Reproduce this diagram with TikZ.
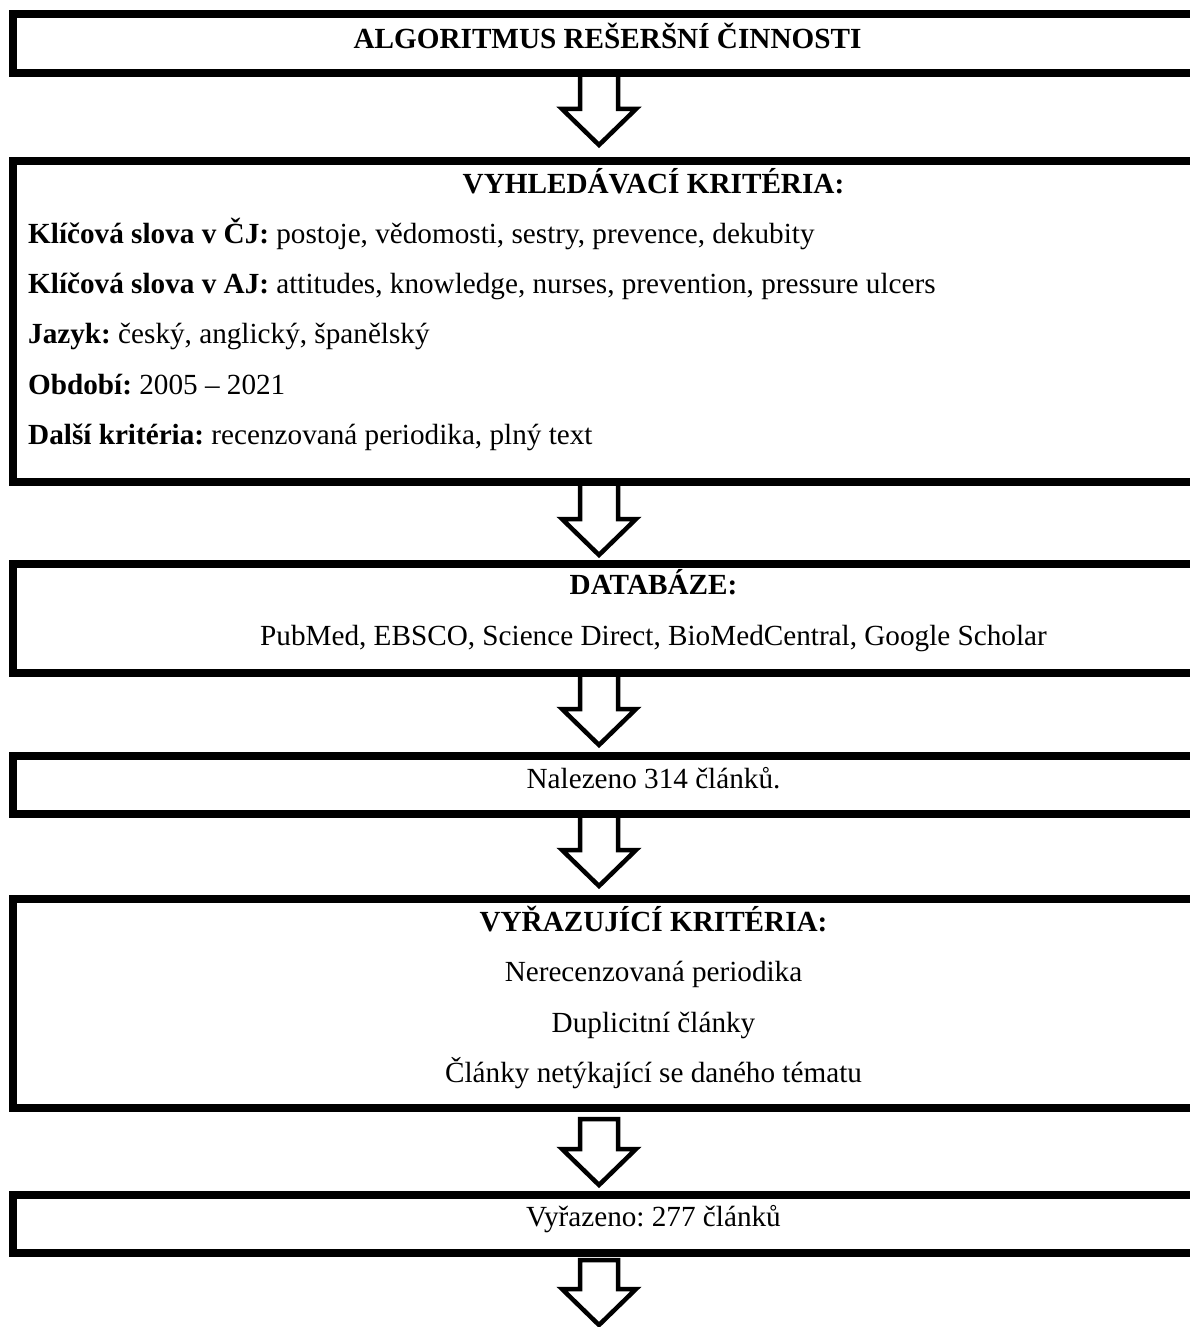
\documentclass[tikz,border=0pt]{standalone}
\usepackage{fontspec}
\setmainfont{Liberation Serif}
\usetikzlibrary{calc}
\frenchspacing

\begin{document}
\begin{tikzpicture}[
      x=1pt, y=-1pt,
      font=\fontsize{29.2}{35}\selectfont,
      box/.style={draw, line width=8pt, inner sep=0pt, minimum width=1281pt},
      txt/.style={inner sep=0pt, anchor=base},
      head/.style={txt, font=\fontsize{29.2}{35}\selectfont\bfseries},
      item/.style={txt, anchor=base west},
      hollow/.style={draw, line width=4.5pt, line join=miter}]
    \useasboundingbox (0,0) rectangle (1190,1327);
    \node[box, minimum width=1189pt, minimum height=59pt] (algo) at (607.5,43.5) {};
    \node[box, minimum height=321pt] (krit)  at (653.5,321.5)  {};
    \node[box, minimum height=109pt] (dbs)   at (653.5,618.5)  {};
    \node[box, minimum height=58pt]  (found) at (653.5,785)    {};
    \node[box, minimum height=209pt] (excl)  at (653.5,1003.5) {};
    \node[box, minimum height=58pt]  (out)   at (653.5,1224)   {};
    \node[head] (algot)  at (607.5,48.5) {ALGORITMUS REŠERŠNÍ ČINNOSTI};
    \node[head] (kritt)  at (653.5,193)  {VYHLEDÁVACÍ KRITÉRIA:};
    \node[item] (kwcz)   at (28,243)   {\textbf{Klíčová slova v ČJ:} postoje, vědomosti, sestry, prevence, dekubity};
    \node[item] (kwen)   at (28,293.5)     {\textbf{Klíčová slova v AJ:} attitudes, knowledge, nurses, prevention, pressure ulcers};
    \node[item] (lang)   at (28,343.5)     {\textbf{Jazyk:} český, anglický, španělský};
    \node[item] (period) at (28,394)   {\textbf{Období:} 2005 -- 2021};
    \node[item] (other)  at (28,444.5)     {\textbf{Další kritéria:} recenzovaná periodika, plný text};
    \node[head] (dbst)   at (653.5,594.5) {DATABÁZE:};
    \node[txt]  (dblist) at (653.5,645)   {PubMed, EBSCO, Science Direct, BioMedCentral, Google Scholar};
    \node[txt]  (foundt) at (653.5,788)   {Nalezeno 314 článků.};
    \node[head] (exclt)  at (653.5,931) {VYŘAZUJÍCÍ KRITÉRIA:};
    \node[txt]  (ex1)    at (653.5,981.5)   {Nerecenzovaná periodika};
    \node[txt]  (ex2)    at (653.5,1032) {Duplicitní články};
    \node[txt]  (ex3)    at (653.5,1082.5)  {Články netýkající se daného tématu};
    \node[txt]  (outt)   at (653.5,1226.5)  {Vyřazeno: 277 článků};
    \coordinate (ax) at (599,0);
    \coordinate (end) at (599,1335);
    \foreach \a/\b/\s/\g in {algo/krit.north/4pt/12pt, krit/dbs.north/4pt/5pt,
        dbs/found.north/4pt/7pt, found/excl.north/4pt/9pt,
        excl/out.north/-7pt/6pt, out/end/-3pt/10pt}
      \draw[hollow] let \p1=(ax |- \a.south), \p2=(ax |- \b) in
        (\x1-19pt,\y1+\s) -- (\x1-19pt,\y2+\g+36pt) -- (\x1-37pt,\y2+\g+36pt)
        -- (\x1,\y2+\g) -- (\x1+37pt,\y2+\g+36pt) -- (\x1+19pt,\y2+\g+36pt)
        -- (\x1+19pt,\y1+\s) -- cycle;
  \end{tikzpicture}
\end{document}
